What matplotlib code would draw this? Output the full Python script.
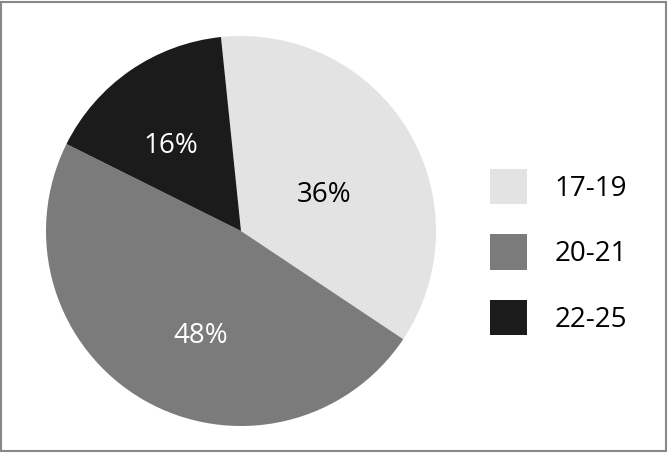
import matplotlib.pyplot as plt
from matplotlib.patches import Rectangle

# age groups and their share (%)
labels = ["17-19", "20-21", "22-25"]
shares = [36, 48, 16]
colors = ["#e3e3e3", "#7b7b7b", "#1b1b1b"]
text_colors = ["black", "white", "white"]

plt.rcParams['font.family'] = ['Open Sans', 'DejaVu Sans']

W, H = 670, 453
fig = plt.figure(figsize=(W / 100, H / 100), dpi=100)

# pie centred at about (241, 231) px, radius 195 px
cx, cy, r = 241, 231, 195
ax = fig.add_axes([(cx - r) / W, (H - cy - r) / H, 2 * r / W, 2 * r / H])

wedges, texts, autotexts = ax.pie(
    shares, colors=colors, startangle=95.9, counterclock=False,
    autopct=lambda p: f"{p:.0f}%", pctdistance=0.53,
    wedgeprops=dict(linewidth=0), textprops=dict(fontsize=20))
for t, c in zip(autotexts, text_colors):
    t.set_color(c)

# nudge the percent labels a little, as in the original
nudges = [(-0.03, -0.09), (0.06, -0.08), (-0.06, 0.0)]
for t, (dx, dy) in zip(autotexts, nudges):
    x, y = t.get_position()
    t.set_position((x + dx, y + dy))

ax.set_xlim(-1, 1)
ax.set_ylim(-1, 1)
ax.set_aspect('equal')

# legend squares and labels
leg = ax.legend(wedges, labels, loc='center left', bbox_to_anchor=(1.102, 0.446),
                frameon=False, fontsize=20, handlelength=1.33, handleheight=1.6,
                labelspacing=1.07, handletextpad=1.0, borderpad=0)

# gray frame around the whole figure
fig.patches.append(Rectangle((1 / W, 2 / H), 665 / W, 449 / H, transform=fig.transFigure,
                             fill=False, edgecolor="#888888", linewidth=1.5))

fig.savefig("out.png", dpi=100)
